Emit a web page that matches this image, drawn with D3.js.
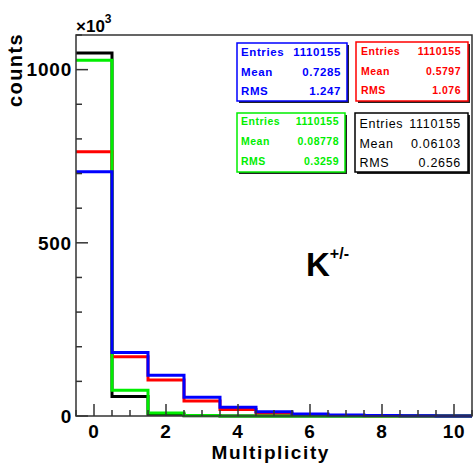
<!DOCTYPE html>
<html><head><meta charset="utf-8">
<script src="https://cdn.jsdelivr.net/npm/d3@7"></script>
<style>
body{margin:0;background:#fff;}
svg{display:block;font-family:"Liberation Sans",Arial,Helvetica,sans-serif;}
</style></head>
<body><svg id="c" width="473" height="467"></svg>
<script>
// bin centres (multiplicity) and counts in units of 10^3
const bins = [0,1,2,3,4,5,6,7,8,9,10];
const blueVals  = [705, 183, 118, 54, 25, 12, 6, 3, 1.5, 0.7, 0.3];
const redVals   = [763, 171, 104, 43, 19, 8, 3, 1.2, 0.5, 0.2, 0.1];
const greenVals = [1027, 74, 9, 1.5, 0.3, 0.1, 0, 0, 0, 0, 0];
const blackVals = [1048, 56, 5, 1, 0.2, 0, 0, 0, 0, 0, 0];
const xTicks = [0,2,4,6,8,10];
const yTicks = [0,500,1000];
const statLabels = ["Entries","Mean","RMS"];
const blueStats  = ["1110155","0.7285","1.247"];
const redStats   = ["1110155","0.5797","1.076"];
const greenStats = ["1110155","0.08778","0.3259"];
const blackStats = ["1110155","0.06103","0.2656"];

const svg = d3.select("#c");
const L=76, R=472, T=35, B=416;
const x = d3.scaleLinear().domain([-0.5,10.5]).range([L,R]);
const y = d3.scaleLinear().domain([0,1100]).range([B,T]);
const frameCol="#333";

// histograms
function stepPath(vals){
  const p = d3.path();
  vals.forEach((v,i)=>{
    if(i===0) p.moveTo(x(bins[i]-0.5), y(v));
    else p.lineTo(x(bins[i]-0.5), y(v));
    p.lineTo(x(bins[i]+0.5), y(v));
  });
  return p.toString();
}
svg.append("clipPath").attr("id","pc").append("rect")
  .attr("x",L).attr("y",T).attr("width",R-L).attr("height",B-T+2);
const g = svg.append("g").attr("clip-path","url(#pc)");
[[blackVals,"#000"],[redVals,"#ff0000"],[greenVals,"#00ee00"],[blueVals,"#0000ff"]].forEach(([v,c])=>{
  g.append("path").attr("d",stepPath(v)).attr("fill","none")
   .attr("stroke",c).attr("stroke-width",3).attr("stroke-linejoin","miter");
});

// frame
svg.append("rect").attr("x",L).attr("y",T).attr("width",R-L).attr("height",B-T)
  .attr("fill","none").attr("stroke",frameCol).attr("stroke-width",1.5);

// y ticks (inside)
const yMinor = d3.range(0,1101,100);
yMinor.forEach(v=>{
  const major = v%500===0;
  svg.append("line").attr("x1",L).attr("x2",L+(major?12:6))
    .attr("y1",y(v)).attr("y2",y(v)).attr("stroke",frameCol).attr("stroke-width",1.5);
});
yTicks.forEach(v=>{
  svg.append("text").attr("x",L-4).attr("y",y(v)).attr("dy","0.36em")
    .attr("text-anchor","end").attr("font-size",19).attr("font-weight","bold")
    .attr("letter-spacing",0.8).text(v);
});
// x ticks (inside, upward)
d3.range(-0.5,10.51,0.5).forEach(v=>{
  const major = Math.abs(v%2)<1e-9;
  svg.append("line").attr("x1",x(v)).attr("x2",x(v))
    .attr("y1",B).attr("y2",B-(major?12:6)).attr("stroke",frameCol).attr("stroke-width",1.5);
});
xTicks.forEach(v=>{
  svg.append("text").attr("x",x(v)).attr("y",438)
    .attr("text-anchor","middle").attr("font-size",19).attr("font-weight","bold")
    .attr("letter-spacing",0.8).text(v);
});

// axis titles
svg.append("text").attr("x",330).attr("y",459).attr("text-anchor","end")
  .attr("font-size",19).attr("font-weight","bold").attr("letter-spacing",1.6).text("Multiplicity");
svg.append("text").attr("transform","translate(22,33) rotate(-90)").attr("text-anchor","end")
  .attr("font-size",20).attr("font-weight","bold").attr("letter-spacing",1.4).text("counts");
const ex = svg.append("text").attr("x",76).attr("y",31.5).attr("font-size",17).attr("font-weight","bold");
ex.append("tspan").text("\u00d710");
ex.append("tspan").attr("dy",-9).attr("font-size",12).text("3");

// K label
const k = svg.append("text").attr("x",306).attr("y",276).attr("font-size",33).attr("font-weight","bold");
k.append("tspan").text("K");
k.append("tspan").attr("dy",-17).attr("font-size",16).text("+/-");

// stat boxes
function statBox(x0,y0,x1,y1,col,vals,opts){
  svg.append("rect").attr("x",x0+2).attr("y",y0+2).attr("width",x1-x0).attr("height",y1-y0)
    .attr("fill","#222");
  svg.append("rect").attr("x",x0).attr("y",y0).attr("width",x1-x0).attr("height",y1-y0)
    .attr("fill","#fff").attr("stroke",col).attr("stroke-width",1.5);
  statLabels.forEach((lab,i)=>{
    const yy = opts.rows[i];
    svg.append("text").attr("x",opts.lx).attr("y",yy).attr("dy","0.36em")
      .attr("fill",col).attr("font-size",opts.fs).attr("font-weight",opts.fw)
      .attr("letter-spacing",opts.ls).text(lab);
    svg.append("text").attr("x",opts.rx).attr("y",yy).attr("dy","0.36em").attr("text-anchor","end")
      .attr("fill",col).attr("font-size",opts.fs).attr("font-weight",opts.fw)
      .attr("letter-spacing",opts.ls).text(vals[i]);
  });
}
statBox(237,43,347,101,"#0000ff",blueStats,{lx:241,rx:341,rows:[52,71.5,91],fs:11.5,fw:"bold",ls:0.6});
statBox(356,42,468,101,"#ff0000",redStats,{lx:361,rx:461,rows:[51,71,90],fs:10.5,fw:"bold",ls:0.5});
statBox(237,113,345,172,"#00ee00",greenStats,{lx:241,rx:339,rows:[121.5,141,161],fs:10.5,fw:"bold",ls:0.5});
statBox(355,113,468,172,"#000",blackStats,{lx:359.5,rx:461,rows:[123.5,143.5,162],fs:12.5,fw:"normal",ls:0.7});
</script></body></html>
